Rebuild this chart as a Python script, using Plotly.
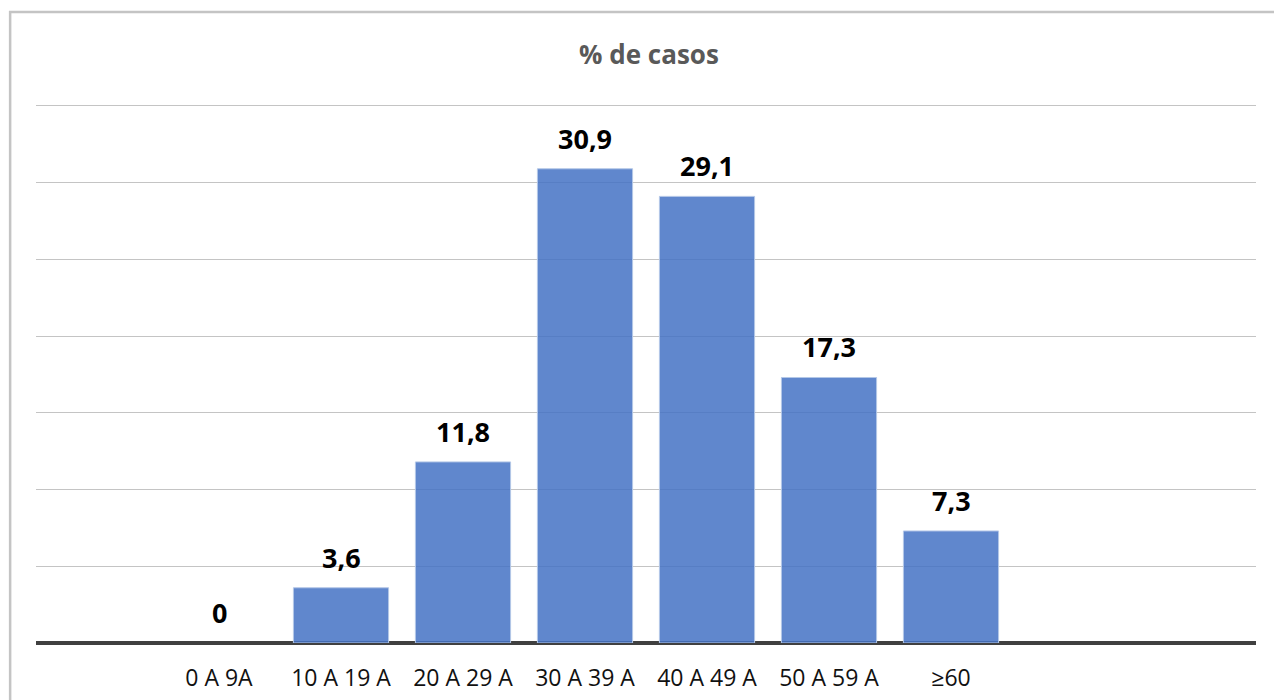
import plotly.graph_objects as go

categories = ["0 A 9A", "10 A 19 A", "20 A 29 A", "30 A 39 A", "40 A 49 A", "50 A 59 A", "≥60"]
values = [0, 3.6, 11.8, 30.9, 29.1, 17.3, 7.3]
title_text = "% de casos"

labels = [f"{v:g}".replace(".", ",") for v in values]

fig = go.Figure()
fig.add_trace(go.Bar(
    x=categories,
    y=values,
    width=0.78,
    marker=dict(
        color="rgba(68,114,196,0.85)",
        line=dict(color="rgba(180,199,231,1)", width=[0 if v == 0 else 1 for v in values]),
    ),
    hoverinfo="x+y",
))

for c, v, t in zip(categories, values, labels):
    fig.add_annotation(
        x=c, y=v, text=f"<b>{t}</b>", showarrow=False,
        yanchor="bottom", yshift=10,
        font=dict(family="Open Sans", size=27, color="#000000"),
    )

fig.add_shape(
    type="rect", xref="paper", yref="paper",
    x0=-0.0212, x1=1.08, y0=-0.2, y1=1.1707,
    line=dict(color="#c4c4c4", width=2.5), fillcolor="rgba(0,0,0,0)", layer="below",
)

fig.update_layout(
    width=1282, height=700,
    margin=dict(l=28, r=34, t=96, b=65),
    paper_bgcolor="white", plot_bgcolor="white",
    showlegend=False,
    title=dict(
        text=f"<b>{title_text}</b>", x=0.5, xanchor="center", y=1 - 47 / 700, yanchor="middle",
        font=dict(family="Open Sans", size=26, color="#595959"),
    ),
    xaxis=dict(
        type="category", range=[-1.5, 8.5],
        showgrid=False, showline=False, zeroline=False,
        ticks="", ticklabelstandoff=19,
        tickfont=dict(family="Open Sans", size=23, color="#111111"),
    ),
    yaxis=dict(
        range=[0, 35.12], tickvals=[5, 10, 15, 20, 25, 30, 35], showticklabels=False,
        showgrid=True, gridcolor="#c4c4c4", gridwidth=1.2,
        zeroline=True, zerolinecolor="#404040", zerolinewidth=3.5,
        showline=False, ticks="",
    ),
    bargap=0.22,
)

fig.write_html("out.html")
